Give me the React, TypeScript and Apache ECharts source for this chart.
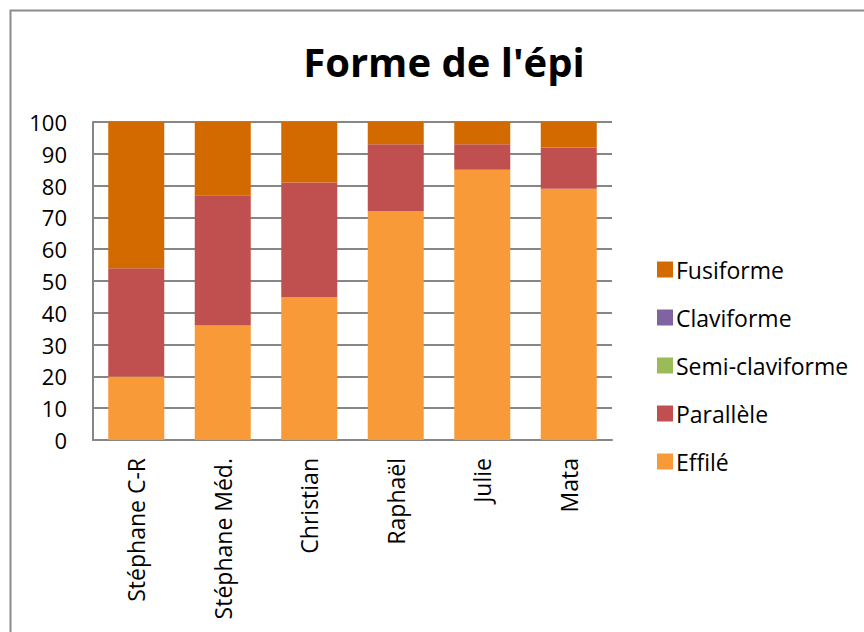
import React, { useEffect, useRef } from "react";
import * as echarts from "echarts";

const categories = ["Stéphane C-R", "Stéphane Méd.", "Christian", "Raphaël", "Julie", "Mata"];
const effile = [20, 36, 45, 72, 85, 79];
const parallele = [34, 41, 36, 21, 8, 13];
const semiClaviforme = [0, 0, 0, 0, 0, 0];
const claviforme = [0, 0, 0, 0, 0, 0];
const fusiforme = [46, 23, 19, 7, 7, 8];
const yTicks = { min: 0, max: 100, interval: 10 };
const legendOrder = ["Fusiforme", "Claviforme", "Semi-claviforme", "Parallèle", "Effilé"];

const FONT = "Open Sans";

export default function App() {
  const ref = useRef<HTMLDivElement>(null);
  useEffect(() => {
    if (!ref.current) return;
    const chart = echarts.init(ref.current, undefined, { renderer: "svg" });
    const mk = (name: string, data: number[], color: string) => ({
      name,
      type: "bar",
      stack: "total",
      data,
      barWidth: 56,
      itemStyle: { color },
      emphasis: { disabled: true },
    });
    chart.setOption({
      animation: false,
      backgroundColor: "#ffffff",
      textStyle: { fontFamily: FONT },
      graphic: [
        {
          type: "rect",
          shape: { x: 10.5, y: 10.5, width: 900, height: 700 },
          style: { fill: "none", stroke: "#8c8c8c", lineWidth: 2 },
          z: -10,
        },
        {
          type: "text",
          x: 444,
          y: 61,
          style: {
            text: "Forme de l'épi",
            fontFamily: FONT,
            fontWeight: "bold",
            fontSize: 40,
            fill: "#000000",
            textAlign: "center",
            textVerticalAlign: "middle",
          },
        },
      ],
      legend: {
        orient: "vertical",
        left: 652,
        top: 253,
        data: legendOrder,
        itemWidth: 16,
        itemHeight: 16,
        itemGap: 25,
        icon: "rect",
        textStyle: { fontFamily: FONT, fontSize: 23, color: "#000000", padding: [0, 0, 0, -2] },
        selectedMode: false,
      },
      grid: { left: 93, top: 122, width: 519, height: 318, containLabel: false },
      xAxis: {
        type: "category",
        data: categories,
        axisLine: { lineStyle: { color: "#868686", width: 2 } },
        axisTick: { show: false },
        axisLabel: {
          rotate: 90,
          fontFamily: FONT,
          fontSize: 23,
          color: "#000000",
          margin: 18,
          interval: 0,
        },
      },
      yAxis: {
        type: "value",
        min: yTicks.min,
        max: yTicks.max,
        interval: yTicks.interval,
        axisLine: { show: true, lineStyle: { color: "#868686", width: 2 } },
        axisTick: { show: false },
        splitLine: { lineStyle: { color: "#868686", width: 2 } },
        axisLabel: { fontFamily: FONT, fontSize: 22, color: "#000000", margin: 26 },
      },
      series: [
        mk("Effilé", effile, "#F99A38"),
        mk("Parallèle", parallele, "#C0504F"),
        mk("Semi-claviforme", semiClaviforme, "#9BBB59"),
        mk("Claviforme", claviforme, "#8064A2"),
        mk("Fusiforme", fusiforme, "#D36A00"),
      ],
    });
    return () => chart.dispose();
  }, []);
  return (
    <div
      ref={ref}
      style={{ position: "absolute", left: 0, top: 0, width: 864, height: 632 }}
    />
  );
}
